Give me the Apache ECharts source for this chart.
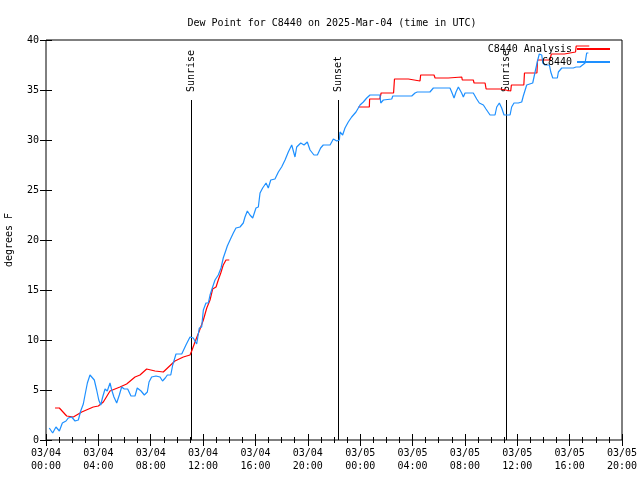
<!DOCTYPE html>
<html>
<head>
<meta charset="utf-8">
<script src="https://cdn.jsdelivr.net/npm/echarts@6/dist/echarts.min.js"></script>
<style>html,body{margin:0;padding:0;background:#fff}#c{width:640px;height:480px}</style>
</head>
<body>
<div id="c"></div>
<script>
// hours since 2025-03-04 00:00 UTC
const titleText = 'Dew Point for C8440 on 2025-Mar-04 (time in UTC)';
const yName = 'degrees F';
const analysisName = 'C8440 Analysis';
const obsName = 'C8440';
const analysisColor = '#ff0000';
const obsColor = '#1e90ff';
const xMin = 0, xMax = 44, xStep = 4;
const yMin = 0, yMax = 40, yStep = 5;

const analysis = [
  [0.69,3.2],[1.02,3.2],[1.58,2.4],[2.09,2.3],[2.73,2.8],[3.61,3.3],[4.0,3.4],[4.38,3.8],
  [4.89,4.9],[5.65,5.3],[6.16,5.6],[6.8,6.3],[7.18,6.5],[7.69,7.1],[8.33,6.9],[8.96,6.8],
  [9.85,7.9],[10.49,8.3],[11.0,8.5],[11.13,8.9],[11.38,9.8],[11.71,10.9],[12.02,12.0],
  [12.28,13.2],[12.53,14.0],[12.73,15.1],[12.99,15.3],[13.16,16.0],[13.35,16.7],[13.54,17.5],
  [13.75,18.0],[14.0,18.0],[18.9,null],
  [23.86,33.3],[24.7,33.3],[24.72,34.1],[25.5,34.1],[25.6,34.7],[26.55,34.7],[26.62,36.1],
  [27.68,36.1],[27.7,35.9],[28.57,35.9],[28.62,36.5],[29.64,36.5],[29.72,36.2],[30.73,36.2],
  [30.75,36.3],[31.76,36.3],[31.8,36.0],[32.64,36.0],[32.7,35.7],[33.54,35.7],[33.62,35.1],
  [34.7,35.1],[34.75,34.9],[35.5,34.9],[35.55,35.5],[36.5,35.5],[36.55,36.7],[37.5,36.7],
  [37.55,38.0],[38.5,38.0],[38.6,38.6],[39.6,38.6],[39.65,38.8],[40.45,38.8],[40.5,39.4],[41.5,39.4]
];

const observed = [
  [0.25,1.2],[0.51,0.7],[0.76,1.3],[1.02,0.9],[1.25,1.7],[1.53,1.9],[1.7,2.2],[1.96,2.3],
  [2.22,1.9],[2.47,2.0],[2.65,2.9],[2.85,3.6],[2.98,4.5],[3.16,5.7],[3.36,6.5],[3.51,6.6],
  [3.69,6.0],[3.87,5.0],[4.03,4.0],[4.18,3.5],[4.33,4.3],[4.51,5.1],[4.68,4.9],[4.89,5.7],
  [5.02,5.0],[5.19,4.3],[5.4,3.7],[5.6,4.5],[5.78,5.3],[5.98,5.1],[6.24,5.1],[6.49,4.4],
  [6.8,4.4],[6.97,5.2],[7.26,4.9],[7.51,4.5],[7.74,4.8],[7.87,5.8],[8.07,6.3],[8.4,6.4],
  [8.71,6.3],[8.9,5.9],[9.11,6.2],[9.27,6.5],[9.53,6.5],[9.68,7.5],[9.93,8.6],[10.37,8.6],
  [10.69,9.5],[11.0,10.3],[11.25,10.2],[11.51,9.6],[11.71,11.2],[11.89,11.3],[12.02,13.0],
  [12.22,13.7],[12.4,13.7],[12.53,14.5],[12.73,15.3],[12.91,16.0],[13.16,16.5],[13.37,17.2],
  [13.54,18.2],[13.75,19.0],[13.85,19.4],[14.0,19.2],[14.13,20.2],[14.31,20.7],[14.51,21.2],
  [14.82,21.3],[15.07,21.7],[15.2,22.3],[15.38,22.9],[15.58,22.5],[15.79,22.2],[16.04,23.2],
  [16.22,23.3],[16.35,24.7],[16.55,25.2],[16.81,25.7],[16.98,25.2],[17.17,26.0],[17.49,26.1],
  [17.75,26.8],[18.0,27.3],[18.26,28.0],[18.51,28.8],[18.77,29.5],[19.02,28.3],[19.15,29.3],
  [19.46,29.7],[19.71,29.5],[19.96,29.8],[20.17,29.0],[20.47,28.5],[20.73,28.5],[20.98,29.2],
  [21.18,29.5],[21.7,29.5],[21.95,30.1],[22.21,29.9],[22.41,30.0],[22.46,30.8],[22.66,30.5],
  [22.84,31.2],[23.09,31.8],[23.35,32.3],[23.68,32.8],[23.99,33.5],[24.24,33.8],[24.5,34.2],
  [24.75,34.5],[25.51,34.5],[25.57,33.7],[25.77,34.0],[26.41,34.1],[26.49,34.4],[27.17,34.4],
  [27.3,34.6],[27.42,34.4],[27.94,34.4],[28.19,34.7],[28.36,34.8],[29.33,34.8],[29.59,35.2],
  [30.86,35.2],[30.99,34.8],[31.17,34.2],[31.32,34.8],[31.5,35.3],[31.63,35.4],[31.75,34.7],
  [31.88,34.3],[32.01,34.7],[32.64,34.7],[32.9,34.1],[33.1,33.7],[33.41,33.5],[33.61,33.1],
  [33.92,32.5],[34.3,32.5],[34.43,33.3],[34.63,33.7],[34.81,33.2],[34.99,32.5],[35.45,32.5],
  [35.57,33.3],[35.75,33.7],[35.9,33.5],[36.08,33.7],[36.34,33.8],[36.46,34.4],[36.72,35.5],
  [37.18,35.7],[37.36,36.8],[37.53,37.8],[37.68,38.6],[37.87,38.5],[37.95,37.7],[38.12,37.5],
  [38.45,37.5],[38.56,36.8],[38.71,36.2],[39.06,36.2],[39.14,36.8],[39.27,36.9],[39.4,37.2],
  [39.52,37.0],[39.72,37.2],[40.28,37.2],[40.49,37.3],[40.79,37.3],[40.92,37.5],[41.18,37.7],
  [41.3,38.7],[41.43,38.7]
];

const eventTimes = [11.1, 22.33, 35.12];
const eventLabels = ['Sunrise', 'Sunset', 'Sunrise'];
const eventTop = 34;

const FONT = 'DejaVu Sans Mono';

function fmtX(h) {
  const day = h < 24 ? '03/04' : '03/05';
  const hh = Math.round(h % 24);
  return day + '\n' + (hh < 10 ? '0' + hh : '' + hh) + ':00';
}

const chart = echarts.init(document.getElementById('c'), null, {renderer: 'canvas'});

const baseX = {
  type: 'value', min: xMin, max: xMax, interval: xStep,
  axisLine: {show: false},
  axisTick: {inside: true, length: 6, lineStyle: {color: '#000'}},
  minorTick: {show: true, splitNumber: 4, length: 3, lineStyle: {color: '#000'}},
  splitLine: {show: false}
};
const baseY = {
  type: 'value', min: yMin, max: yMax, interval: yStep,
  axisLine: {show: false},
  axisTick: {inside: true, length: 6, lineStyle: {color: '#000'}},
  splitLine: {show: false}
};

chart.setOption({
  animation: false,
  backgroundColor: '#fff',
  title: {
    text: titleText, left: 327, top: 13, textAlign: 'center',
    textStyle: {fontFamily: FONT, fontSize: 10, fontWeight: 'normal', color: '#000'}
  },
  legend: {
    orient: 'vertical', right: 25, top: 38, align: 'right',
    icon: 'rect', itemWidth: 33, itemHeight: 2, itemGap: 1,
    textStyle: {fontFamily: FONT, fontSize: 10, color: '#000', lineHeight: 12},
    data: [
      {name: analysisName, itemStyle: {color: analysisColor}},
      {name: obsName, itemStyle: {color: obsColor}}
    ]
  },
  grid: {left: 46, right: 18, top: 40, bottom: 40, show: true, borderColor: '#000', borderWidth: 1,
         backgroundColor: 'transparent', containLabel: false, outerBoundsMode: 'none'},
  xAxis: [
    Object.assign({}, baseX, {position: 'bottom',
      axisLabel: {formatter: fmtX, margin: 7, lineHeight: 13, fontFamily: FONT, fontSize: 10, color: '#000'}}),
    Object.assign({}, baseX, {position: 'top', axisLabel: {show: false}})
  ],
  yAxis: [
    Object.assign({}, baseY, {position: 'left', name: yName, nameLocation: 'middle', nameGap: 32,
      nameTextStyle: {fontFamily: FONT, fontSize: 10, color: '#000'},
      axisLabel: {margin: 7, fontFamily: FONT, fontSize: 10, color: '#000'}}),
    Object.assign({}, baseY, {position: 'right', axisLabel: {show: false}})
  ],
  series: [
    {
      type: 'custom', name: 'events', silent: true,
      data: eventTimes.map(t => [t, eventTop]),
      encode: {x: 0, y: 1},
      renderItem: function (params, api) {
        const t = api.value(0);
        const top = api.coord([t, api.value(1)]);
        const bot = api.coord([t, 0]);
        const x = Math.round(top[0]) + 0.5;
        return {
          type: 'group',
          children: [
            {type: 'line', shape: {x1: x, y1: top[1], x2: x, y2: bot[1]},
             style: {stroke: '#000', lineWidth: 1}},
            {type: 'text', x: x, y: top[1] - 8, rotation: Math.PI / 2,
             style: {text: eventLabels[params.dataIndex], align: 'left', verticalAlign: 'middle',
                     font: '10px "' + FONT + '"', fill: '#000'}}
          ]
        };
      }
    },
    {
      type: 'line', name: analysisName, data: analysis, symbol: 'none', connectNulls: false,
      lineStyle: {color: analysisColor, width: 1.2}, itemStyle: {color: analysisColor}
    },
    {
      type: 'line', name: obsName, data: observed, symbol: 'none',
      lineStyle: {color: obsColor, width: 1.2}, itemStyle: {color: obsColor}
    }
  ]
});
</script>
</body>
</html>
